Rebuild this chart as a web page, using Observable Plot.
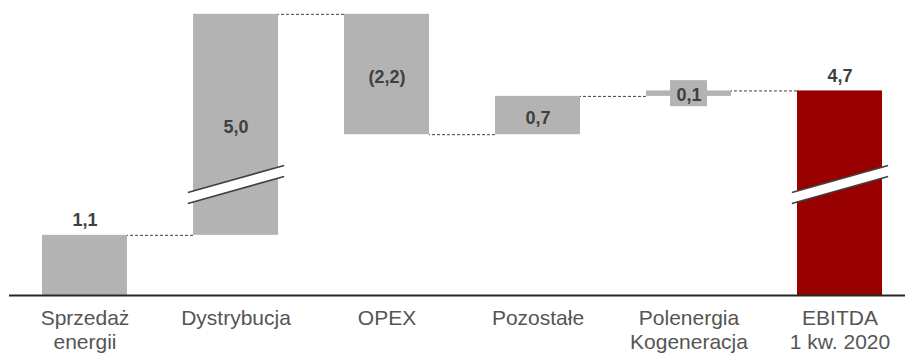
<!DOCTYPE html>
<html>
<head>
<meta charset="utf-8">
<script src="https://cdn.jsdelivr.net/npm/d3@7"></script>
<script src="https://cdn.jsdelivr.net/npm/@observablehq/plot@0.6"></script>
<style>
  html, body { margin: 0; padding: 0; background: #fff; }
  #chart svg { display: block; }
</style>
</head>
<body>
<div id="chart"></div>
<script>
// EBITDA bridge, mln PLN
const categories = ["Sprzedaż\nenergii", "Dystrybucja", "OPEX", "Pozostałe", "Polenergia\nKogeneracja", "EBITDA\n1 kw. 2020"];
const values = [1.1, 5.0, -2.2, 0.7, 0.1, 4.7];
const isTotal = [false, false, false, false, false, true];

const GRAY = "#b3b3b3";
const RED = "#990000";
const INK = "#404040";

// The value axis is cut between these two levels to save height.
const breakLow = 2.03, breakHigh = 2.99;
const squeeze = v => (v <= breakLow ? v : v - (breakHigh - breakLow));

const fmt = v => {
  const s = Math.abs(v).toFixed(1).replace(".", ",");
  return v < 0 ? `(${s})` : s;
};

// Running totals for the floating bars
let running = 0;
const steps = categories.map((category, i) => {
  const start = isTotal[i] ? 0 : running;
  const end = isTotal[i] ? values[i] : running + values[i];
  running = end;
  return {
    category, value: values[i], total: isTotal[i], start, end,
    lo: Math.min(start, end), hi: Math.max(start, end)
  };
});

const connectors = steps.slice(0, -1).map((s, i) => ({
  from: s.category, to: steps[i + 1].category, level: s.end
}));

const grounded = steps.filter(s => s.lo === 0);
const tiny = steps.filter(s => s.lo !== 0 && Math.abs(s.value) < 0.3);
const floating = steps.filter(s => s.lo !== 0 && Math.abs(s.value) >= 0.3);
const broken = steps.filter(s => s.lo < breakLow && s.hi > breakHigh);
const mid = d => (squeeze(d.lo) + squeeze(d.hi)) / 2;

// straight segment for the break marks
const segment = {
  draw(context, l) {
    context.moveTo(0, 0);
    context.lineTo(0, -l);
  }
};
const breakOpts = {
  x: "category", y: () => breakLow, length: 100, rotate: 74.3,
  anchor: "middle", shape: segment, strokeLinecap: "butt"
};

const chart = Plot.plot({
  width: 905,
  height: 353,
  marginTop: 0,
  marginBottom: 58,
  marginLeft: 9,
  marginRight: 0,
  style: { fontFamily: "'Liberation Sans', Arial, sans-serif", background: "#fff" },
  x: { domain: categories, range: [9, 915], paddingInner: 0.44, paddingOuter: 0.22, axis: null },
  y: { domain: [0, 295 / 54.7], axis: null },
  color: { type: "identity" },
  marks: [
    Plot.barY(steps, {
      x: "category",
      y1: d => squeeze(d.lo), y2: d => squeeze(d.hi),
      fill: d => (d.total ? RED : GRAY)
    }),
    // dashed connectors spanning the gap between neighbouring bars
    Plot.ruleY(connectors, {
      x1: "to", x2: "from", y: d => squeeze(d.level),
      stroke: INK, strokeWidth: 1, strokeDasharray: "3,2"
    }),
    // axis break marks
    Plot.vector(broken, { ...breakOpts, stroke: "#fff", strokeWidth: 10.5 }),
    Plot.vector(broken, { ...breakOpts, stroke: INK, strokeWidth: 1.6, dy: -5.5 }),
    Plot.vector(broken, { ...breakOpts, stroke: INK, strokeWidth: 1.6, dy: 5.5 }),
    Plot.ruleY([0], { stroke: "#262626", strokeWidth: 2 }),
    // value labels
    Plot.text(grounded, {
      x: "category", y: d => squeeze(d.hi), text: d => fmt(d.value),
      lineAnchor: "bottom", dy: -9, fontSize: 18, fontWeight: "bold", fill: INK
    }),
    Plot.text(floating, {
      x: "category", y: mid, text: d => fmt(d.value),
      lineAnchor: "middle", dy: 2.5, fontSize: 18, fontWeight: "bold", fill: INK
    }),
    Plot.barY(tiny, {
      x: "category", y1: mid, y2: mid,
      insetLeft: 24, insetRight: 24, insetTop: -13, insetBottom: -13,
      fill: GRAY
    }),
    Plot.text(tiny, {
      x: "category", y: mid, text: d => fmt(d.value),
      lineAnchor: "middle", dy: 1.5, fontSize: 18, fontWeight: "bold", fill: INK
    }),
    // category labels
    Plot.text(steps, {
      x: "category", y: () => 0, text: "category",
      lineAnchor: "top", dy: 12, fontSize: 21, lineHeight: 1.143, fill: "#555"
    })
  ]
});

document.getElementById("chart").append(chart);
</script>
</body>
</html>
